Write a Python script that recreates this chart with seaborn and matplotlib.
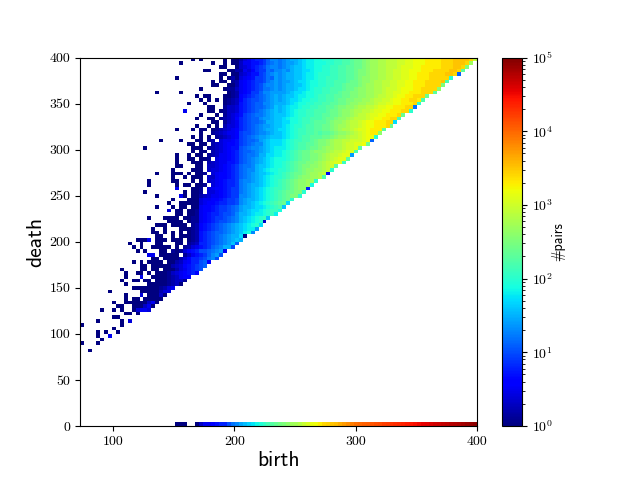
import numpy as np
import pandas as pd
import matplotlib
matplotlib.use("Agg")
import matplotlib.pyplot as plt
from matplotlib.colors import LogNorm
import seaborn as sns

# log10(#pairs) in tenths, one character per bin: 0-9 then A-Z; "." is an empty bin.
# Rows run from the top of the diagram (death 396-400) downwards; columns from the left edge upwards.
ALPHABET = "0123456789ABCDEFGHIJKLMNOPQRSTUVWXYZ"
rows_top_down = [
".......... .......... ........0. 0.....0.00 2457889BDD CDEFFGHIIJ JKKKLLMMNO OPQRRSSTTT UUVVWWWXXX XYYYZZZZYT",
".......... .......... .....0.... ...0..0.00 3557789BCD CDEEFGHIIJ JJKKLLMMNO OPQRRSSTTT UUVVWWWXXX XYYYZZZYR",
".......... .......... .......... .....00..0 345789ACDD CDEFGGHIIJ JKKLLMMNNO OPQRRSSTTT UVVVWWXXXX XYYYZZYP",
".......... .......... .......... .00....002 2546899CBD DEDFGGHHIJ JKKLLMMNNO PPQRRSSTTU UVVWWWXXXY YYYZZYN",
".......... .......... .......... .....00.00 345779ACDE DEFFGGHIIJ KKKLLMMNNO PPQRRSSTTU UVVWWXXXYY YYZZYB",
".......... .......... ....0..... .....0.020 456799ACBE DEFFGGHIIJ KKLLLMMNNO PQQRRSSTTU UVVWWXXXYY YYYK",
".......... .......... .......... ...0.00.12 567899ACDE DEEFGHHIJJ KKLLMMMNOO PQQRSSTTUU VVWWXXXYYY YZM",
".......... .......... .......... ...00..002 56789ACDDE DEFFGGHIJJ KKLLMMNOOO PQRRSSTTUU VVWWXXXYYY YP",
".......... .......... .......... 0.....0113 56789ACCDE DEFFGHHIJK KLLMMMNOOP QQRRSSTUUU VWWWXXYYYY Q",
".......... .........0 .....0.... .......012 56799BDDEE EEFGHHIJJK KLLMMNOOPP QQRRSSTUUV VWWXXXYYYN",
".......... .......... .........0 .00...0012 6789ABCDEF EFGGHIIJJK LLMMNNOOPP QQRRSTTUUV WWXXYYYO",
".......... .......... .......... 0.0.0.0123 689AABCDEF EFGHHIJJKK LLMMNOOPPQ QRRSTTUUVW WXXYYXM",
".......... .......... .......0.. .0....0123 789ABBDDEF FFGHIJJKKL LMMNNOOPQQ RRSSTUUVVW WXXXYK",
".......... .......... .......... ..00..1334 789ABBCDEG FGHIIJKKLL MMNNOPPQQR SSTTUVVWWX XXYYC",
".......... .......... ......5... ..00.01334 789ABCDEFG FGHIJKKLLM MMNOOPQQRS STTUVVWWXX XYYK",
".......... .......... .......... 0...0.1345 79ABCCDEFG GGHIJKKLLM MNNOOPQQRS TTUVVWWXXX YO",
".......... .......... .........0 ..00.12346 89ABBDEEFG GHIJJKLLMM MNOOPQQRST TTUVWWXXYY M",
".......... .......... .......... ...00.1345 89ABBCDFFG GHHJJKLLMN NNOPQQRSTT UVWWXXXYYH",
".......... .......... .........0 ..0.0.2445 89ABCDEEFG GHIJKKLMMN NOOPQRRSTT UVWWXXXYO",
".......... .......... ....0...0. 00.0123456 89ABCDEFFG HHIJKLLMMN NOOPQRSSTU VVWXXXN",
".......... .......... .......... 0..1234556 9AABCDDEFG GHIJKLLMMN MNNOPQQRST UVWXXQ",
".......... .......... ........0. 0.0.123456 9ABCDEEFGG GHIJKLMMNN NOOPQRRSTT UVWWK",
".......... .......... 0....0...0 0.12.45567 9ABBCEFGHH HIJKLLMMNO PPQRSSTTUU UVWB",
".......... .......... .......00. 00.2345667 9ABCDDFGHH HIJKLMMNNO PPQRSSTUUV VWO",
".......... ......0... ........00 0.12345677 ABCDDEFGHI IIJKLMMNOO PQRRSSTUUV N",
".......... .......... ........0. 00.2345678 ABBCDEFGHI IJKLMNOOPQ QQRSTTUVVM",
".......... .......... ....0..0.0 0.12355678 ABCCDFFHHI IJKLMNOOPP QRSTTUVVE",
".......... .......... ....0..00. 001.455678 ABCDEFGHIJ JJKLMNOOPP QRSTUVVN",
".......... .......... ....0...00 0.23455778 ABCDEFGHIJ JKLMNOOPPQ RSTUVVL",
".......... .......... ....00...0 0.33456789 BCCDFGGHIJ JKLMNOPPQQ RSTUN",
".......... .......... ...0....00 0.34456789 BCDDFGHIJJ KKLMNOPQQR RSTK",
".......... .........0 ...000.0.0 01.4566789 BCDEFGGHIJ KLMNOOPQRR ST5",
".......... .......... ...0..0.00 0.33566789 BCDEFGHIJK KLMNOPQQRR SM",
".......... .......0.. ...00...0. 0.34567889 CDDEFGHIJK LMNOPQQRRK",
".......... .......0.. ....0.00.0 01.4567889 CDEFFGHIJK LMNOPQQRJ",
".......... .......... ....5...00 1.45667899 CDEFGHIJKL LMNOPQQ8",
".......... ......0... ......0.00 1.44567899 CDEFGHIJKL MNOOPPK",
".......... .........0 .....50.00 2345567899 DDEFGHIJKL MNOPPK",
".......... .......... ...0...000 455667899A DEFFGHIJKL MNOK",
".......... .......... ..0..00000 456678899A DEFGHIJKLM NOH",
".......... .........0 ...0.00.00 5667899ABC EFFGHHIJKL MG",
".......... .......... ..4.00.001 5667899ABC EFGHHIJKLL J",
".......... .......... ....00.001 567889AABD FFGHIIJKLI",
".......... .......0.. .0000.0011 567899ABCD FGHIJKLG",
".......... .......... ..0000.011 56789AABCD FGHIJK3",
".......... .........0 00.0000.12 6789ABCDEF GHIJKH",
".......... ........0. .0...00012 6789ABCDEF GHIIE",
".......... ........00 .0.0.0.012 789ABBCDEF GIJD",
".......... .........0 0..0.00012 789ABCDEFF H0",
".......... ....0005.0 00.000.012 789ABCDEFG F",
".......... ..0..0...0 0...00.123 889ABCDEGB",
".......... ...0.0..00 000.0.1245 789BCDFFA",
".......... ....0.0... 00.1014678 AABCDE5",
".......... .......55. 00000.1357 89BDEA",
".......... ........00 .000024688 9ACDA",
".......... ...0.0.000 0.00235688 AB6",
".......... .....00.00 0002346789 AB",
".......... 0....00.00 .000245789 A",
".......... .0..00.0.0 0013456786",
".......... .0...5..00 00123566",
".......... 0..00.00.0 0012331",
".......... .0.....000 001230",
".......... ...0000000 1245",
".......0.. .....00000 244",
".......... .0...4.000 30",
".......... .0.00.0000 0",
"........0. .000000350",
".........0 0..000350",
".....0..0. 0..04554",
".......... .00.0",
"........00",
"....0..... 0.4",
"0......... 0",
"........0",
"....0.0..0",
"....0..5",
".....0",
"0...0",
"",
"..0",
]

# log10(#pairs) along the bottom row (death 0-4), per birth bin
floor_levels = [np.nan]*24 + [0, 0, 0, np.nan, np.nan,
    0.0, 0.3, 0.5, 0.5, 0.6, 0.7, 0.8, 0.8, 1.0, 1.2, 1.3,
    1.45, 1.55, 1.65, 1.75, 1.85, 1.95, 2.05, 2.15, 2.25, 2.35,
    2.45, 2.5, 2.6, 2.7, 2.75, 2.85, 2.95, 3.05, 3.15, 3.2,
    3.3, 3.4, 3.45, 3.5, 3.55, 3.65, 3.72, 3.8, 3.87, 3.95,
    4.0, 4.03, 4.06, 4.1, 4.13, 4.16, 4.2, 4.23, 4.26, 4.3,
    4.33, 4.37, 4.4, 4.43, 4.46, 4.5, 4.54, 4.57, 4.6, 4.63,
    4.66, 4.69, 4.72, 4.75, 4.78, 4.8, 4.84, 4.87, 4.9, 4.93]

birth_edges = np.linspace(72.7, 400, 101)
death_edges = np.linspace(0, 400, 101)
x_ticks = [100, 200, 300, 400]
y_ticks = [0, 50, 100, 150, 200, 250, 300, 350, 400]

grid = np.full((100, 100), np.nan)
grid[0, :] = floor_levels
for r, text in enumerate(rows_top_down):
    for i, ch in enumerate(text.replace(" ", "")):
        if ch != ".":
            grid[99 - r, i] = ALPHABET.index(ch) / 10
counts = pd.DataFrame(10.0 ** grid, index=death_edges[:-1], columns=birth_edges[:-1])

plt.rcParams.update({
    "font.family": ["cmr10", "DejaVu Sans"],
    "mathtext.fontset": "cm",
    "mathtext.default": "rm",
    "axes.formatter.use_mathtext": True,
    "axes.unicode_minus": False,
})
fig = plt.figure(figsize=(6.4, 4.8), dpi=100)
ax = fig.add_axes([0.125, 0.1125, 0.62, 0.7675])
cax = fig.add_axes([0.7845, 0.1125, 0.031, 0.7675])
sns.heatmap(counts, ax=ax, cbar_ax=cax, cmap="jet", norm=LogNorm(vmin=1, vmax=1e5),
            xticklabels=False, yticklabels=False, rasterized=True)
ax.invert_yaxis()
ax.set_xticks([(v - birth_edges[0]) / (birth_edges[1] - birth_edges[0]) for v in x_ticks])
ax.set_xticklabels([str(v) for v in x_ticks], rotation=0)
ax.set_yticks([v / (death_edges[1] - death_edges[0]) for v in y_ticks])
ax.set_yticklabels([str(v) for v in y_ticks], rotation=0)
ax.tick_params(length=3.5, width=0.8, labelsize=10)
for s in ax.spines.values():
    s.set_visible(True)
    s.set_linewidth(0.8)
    s.set_color("black")
ax.set_xlabel("birth", fontsize=15.5, labelpad=2, family="cmss10")
ax.set_ylabel("death", fontsize=15.5, labelpad=3, family="cmss10")

cbar = ax.collections[0].colorbar
cbar.outline.set_linewidth(0.8)
cbar.outline.set_edgecolor("black")
cbar.ax.tick_params(labelsize=10, length=3.5, width=0.8)
cbar.ax.tick_params(which="minor", length=2, width=0.6)
cbar.set_label("#pairs", fontsize=10, family="cmss10", labelpad=-1)
fig.savefig("out.png", dpi=100)
